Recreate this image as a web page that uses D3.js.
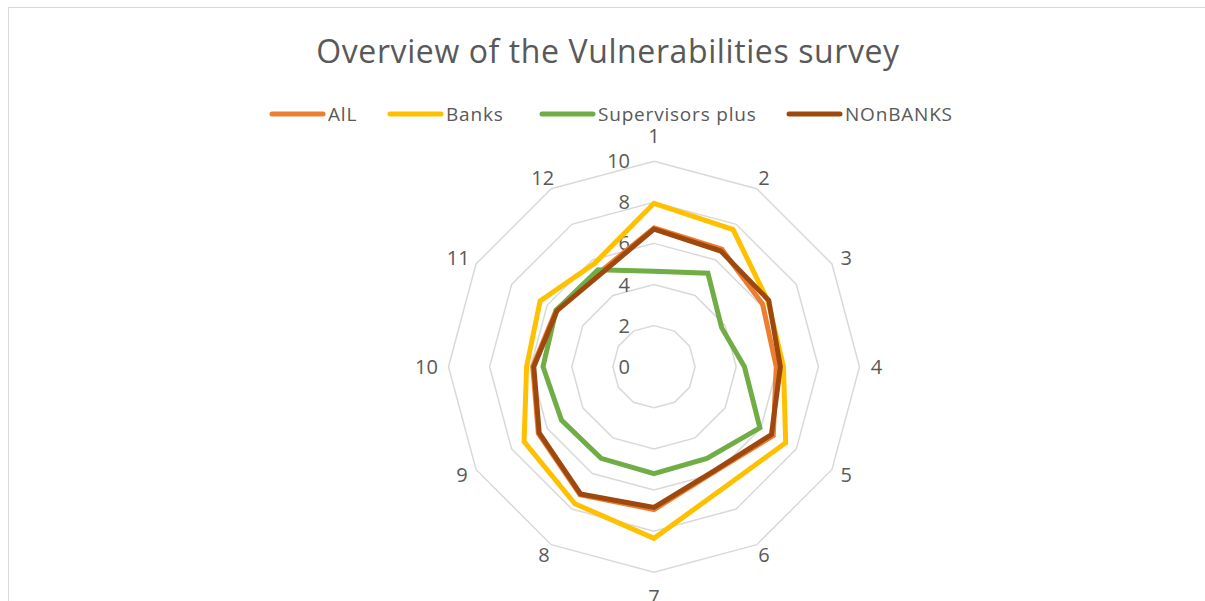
<!DOCTYPE html>
<html>
<head>
<meta charset="utf-8">
<script src="https://cdn.jsdelivr.net/npm/d3@7"></script>
<style>
  body { margin: 0; background: #fff; }
  svg text { font-family: "Open Sans", sans-serif; fill: #595959; }
</style>
</head>
<body>
<script>
// data
var categories   = ["1", "2", "3", "4", "5", "6", "7", "8", "9", "10", "11", "12"];
var seriesNames  = ["AlL", "Banks", "Supervisors plus", "NOnBANKS"];
var allValues    = [6.75, 6.6, 6.1, 5.95, 6.7, 5.9, 6.95, 7.2, 6.5, 5.9, 5.5, 5.3];
var bankValues   = [7.95, 7.7, 6.4, 6.3, 7.4, 6.8, 8.35, 7.7, 7.3, 6.2, 6.4, 5.8];
var superValues  = [4.65, 5.25, 3.8, 4.4, 5.95, 5.15, 5.2, 5.15, 5.2, 5.4, 5.5, 5.45];
var nonBankValues= [6.7, 6.5, 6.45, 6.15, 6.6, 5.85, 6.85, 7.15, 6.45, 5.85, 5.45, 5.2];
var radialTicks  = [0, 2, 4, 6, 8, 10];

var colours = ["#ED7D31", "#FFC000", "#70AD47", "#9E480E"];
var series = [allValues, bankValues, superValues, nonBankValues];

var W = 1205, H = 601,
	cx = 654, cy = 366.7,
	R = 205.5;

var svg = d3.select("body").append("svg")
	.attr("width", W)
	.attr("height", H);

// chart area border
svg.append("rect")
	.attr("x", 8.5).attr("y", 7.5)
	.attr("width", W + 20).attr("height", H + 20)
	.attr("fill", "none")
	.attr("stroke", "#d9d9d9");

svg.append("text")
	.attr("x", 608).attr("y", 63)
	.attr("text-anchor", "middle")
	.style("font-size", "32px")
	.style("letter-spacing", "0.6px")
	.text("Overview of the Vulnerabilities survey");

// legend
var legendX = [270, 388, 540, 787];
var lg = svg.append("g").attr("class", "legend");
seriesNames.forEach(function(name, i){
	lg.append("line")
		.attr("x1", legendX[i] + 2).attr("x2", legendX[i] + 53)
		.attr("y1", 114).attr("y2", 114)
		.attr("stroke", colours[i])
		.attr("stroke-width", 5)
		.attr("stroke-linecap", "round");
	lg.append("text")
		.attr("x", legendX[i] + 58).attr("y", 114)
		.attr("dy", "0.35em")
		.style("font-size", "19px")
		.style("letter-spacing", "0.8px")
		.text(name);
});

var rScale = d3.scaleLinear().domain([0, 10]).range([0, R]);
var angle = d3.scalePoint().domain(categories).range([0, 2 * Math.PI * (categories.length - 1) / categories.length]);

var g = svg.append("g").attr("transform", "translate(" + cx + "," + cy + ")");

var ring = d3.lineRadial()
	.angle(function(d){ return angle(d.cat); })
	.radius(function(d){ return rScale(d.v); })
	.curve(d3.curveLinearClosed);

// grid rings
radialTicks.filter(function(t){ return t > 0; }).forEach(function(t){
	g.append("path")
		.datum(categories.map(function(c){ return { cat: c, v: t }; }))
		.attr("d", ring)
		.attr("fill", "none")
		.attr("stroke", "#d9d9d9")
		.attr("stroke-width", 1.5);
});

// radial tick labels
g.selectAll("text.rtick").data(radialTicks).enter().append("text")
	.attr("class", "rtick")
	.attr("x", -24)
	.attr("y", function(d){ return -rScale(d); })
	.attr("dy", "0.35em")
	.attr("text-anchor", "end")
	.style("font-size", "20px")
	.text(function(d){ return d; });

// category labels
g.selectAll("text.cat").data(categories).enter().append("text")
	.attr("class", "cat")
	.attr("text-anchor", "middle")
	.attr("dy", "0.35em")
	.style("font-size", "20px")
	.attr("x", function(d){
		var a = angle(d), rr = R + 12 + d.length * 5 * Math.abs(Math.sin(a));
		return rr * Math.sin(a);
	})
	.attr("y", function(d){
		var a = angle(d), rr = R + 12 + (Math.abs(Math.cos(a)) > 0.99 ? 13 : 0);
		return -rr * Math.cos(a);
	})
	.text(function(d){ return d; });

// series
series.forEach(function(vals, i){
	g.append("path")
		.datum(vals.map(function(v, k){ return { cat: categories[k], v: v }; }))
		.attr("d", ring)
		.attr("fill", "none")
		.attr("stroke", colours[i])
		.attr("stroke-width", 5)
		.attr("stroke-linejoin", "miter");
});
</script>
</body>
</html>
